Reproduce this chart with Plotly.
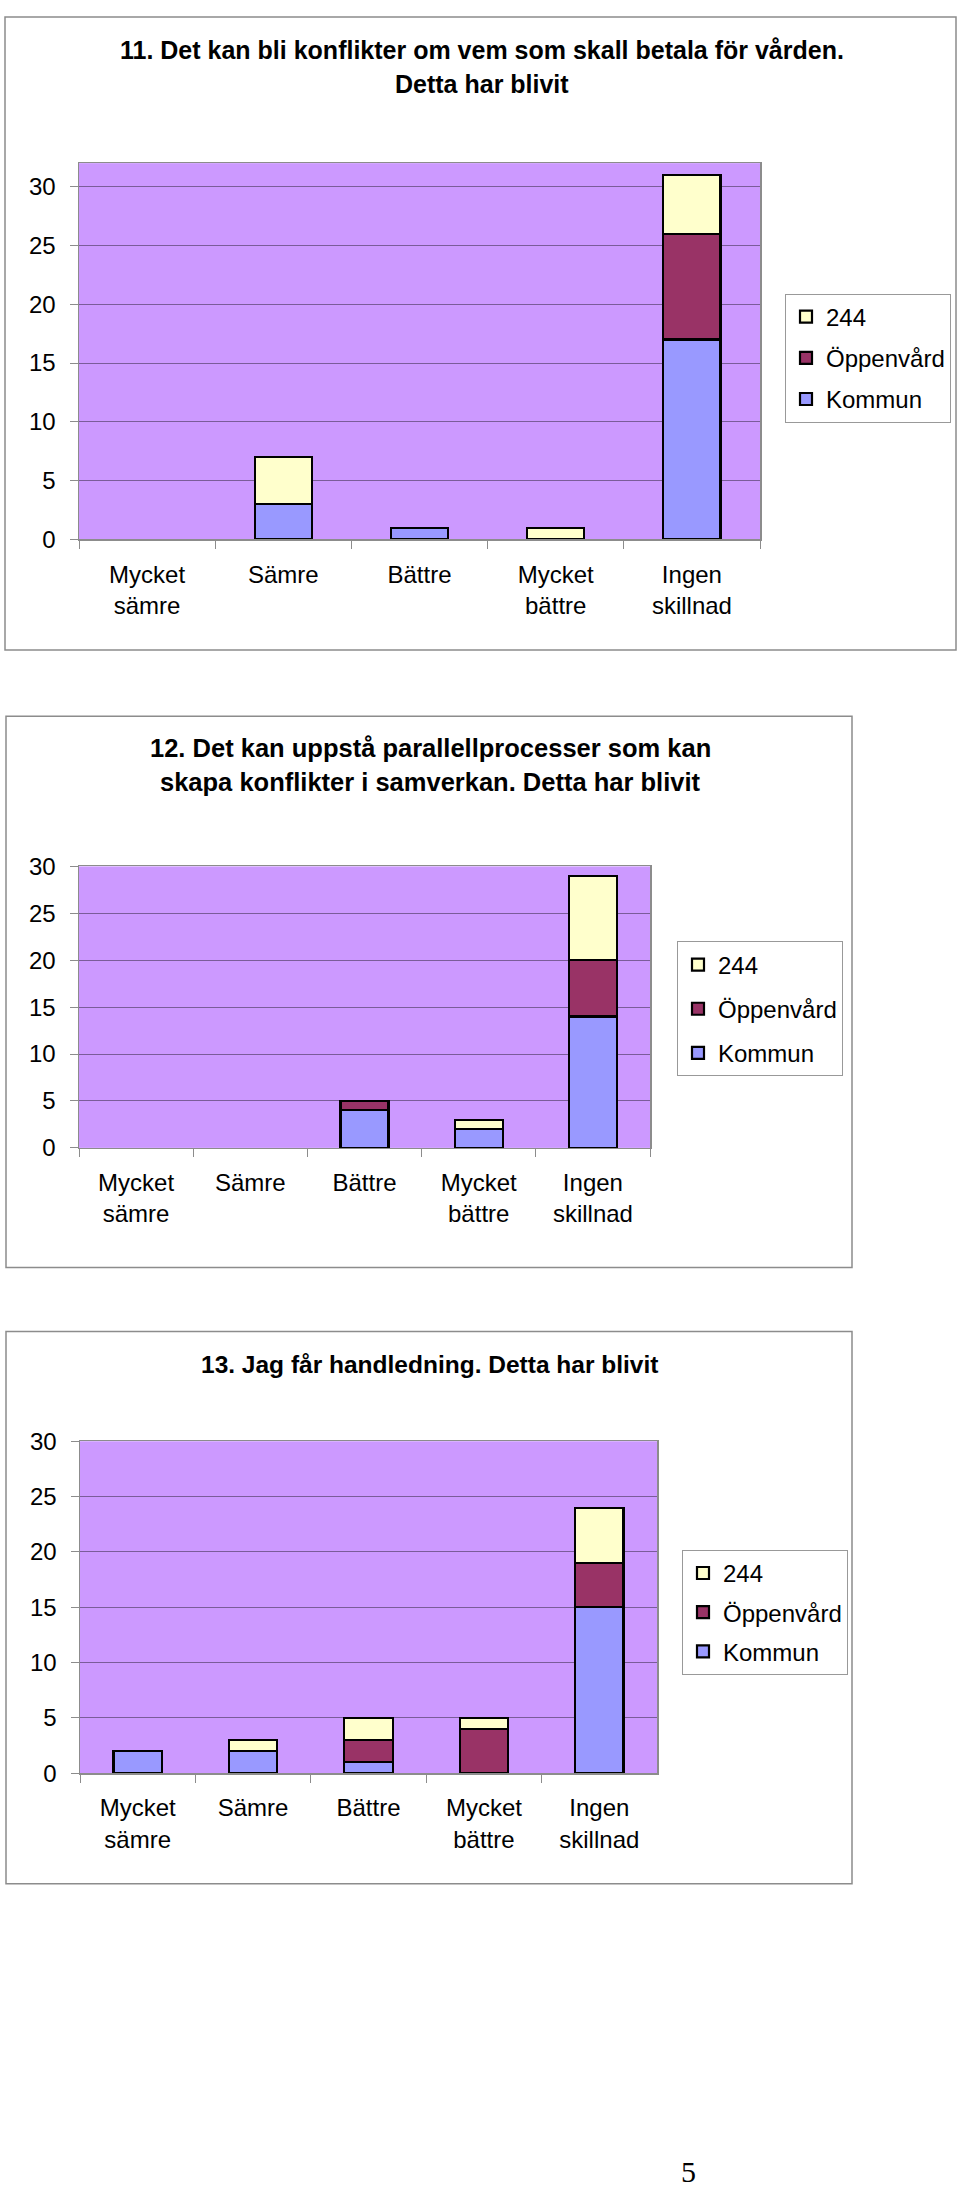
import plotly.graph_objects as go

W, H = 960, 2197

categories = ["Mycket<br>sämre", "Sämre", "Bättre", "Mycket<br>bättre", "Ingen<br>skillnad"]
series_names = ["Kommun", "Öppenvård", "244"]
series_colors = ["#9999FF", "#993366", "#FFFFCC"]
series_rank = [3, 2, 1]

# Chart 11
c11_title = ["11. Det kan bli konflikter om vem som skall betala för vården.", "Detta har blivit"]
c11_kommun = [0, 3, 1, 0, 17]
c11_oppenvard = [0, 0, 0, 0, 9]
c11_244 = [0, 4, 0, 1, 5]

# Chart 12
c12_title = ["12. Det kan uppstå parallellprocesser som kan", "skapa konflikter i samverkan. Detta har blivit"]
c12_kommun = [0, 0, 4, 2, 14]
c12_oppenvard = [0, 0, 1, 0, 6]
c12_244 = [0, 0, 0, 1, 9]

# Chart 13
c13_title = ["13. Jag får handledning. Detta har blivit"]
c13_kommun = [2, 2, 1, 0, 15]
c13_oppenvard = [0, 0, 2, 4, 4]
c13_244 = [0, 1, 2, 1, 5]

y_ticks = [0, 5, 10, 15, 20, 25, 30]
page_number = "5"

FONT = "Liberation Sans, Arial, sans-serif"

def px(x):
    return x / W

def py(y):
    return 1 - y / H

charts = [
    dict(title=c11_title, data=[c11_kommun, c11_oppenvard, c11_244],
         frame=(5, 3, 956, 644), plot=(79, 151, 760, 532), yrange=[0, 32],
         title_y=[36, 71], title_x=482, title_size=25,
         legend=(785, 283), gap=7),
    dict(title=c12_title, data=[c12_kommun, c12_oppenvard, c12_244],
         frame=(6, 711, 852, 1269), plot=(79, 863, 650, 1148), yrange=[0, 30],
         title_y=[743, 778], title_x=430, title_size=25.5,
         legend=(677, 939), gap=10),
    dict(title=c13_title, data=[c13_kommun, c13_oppenvard, c13_244],
         frame=(6, 1334, 852, 1893), plot=(80, 1445, 657, 1781), yrange=[0, 30],
         title_y=[1367], title_x=429, title_size=24.5,
         legend=(682, 1555), gap=5),
]

fig = go.Figure()
shapes = []
annotations = []
layout = {}

for i, ch in enumerate(charts):
    n = i + 1
    xa = "x" if n == 1 else f"x{n}"
    ya = "y" if n == 1 else f"y{n}"
    lg = "legend" if n == 1 else f"legend{n}"
    for name, color, rank, vals in zip(series_names, series_colors, series_rank, ch["data"]):
        fig.add_trace(go.Bar(
            x=categories, y=[v if v else None for v in vals], name=name,
            marker=dict(color=color, line=dict(color="black", width=2.2)),
            xaxis=xa, yaxis=ya, legend=lg, legendgroup=f"{lg}-{name}", legendrank=rank,
            showlegend=True,
        ))
    x0, y0, x1, y1 = ch["plot"]
    xkey = "xaxis" if n == 1 else f"xaxis{n}"
    ykey = "yaxis" if n == 1 else f"yaxis{n}"
    layout[xkey] = dict(
        domain=[px(x0), px(x1)], anchor=ya, type="category",
        showline=True, linecolor="#8c8c8c", linewidth=1.5, mirror=True,
        ticks="outside", tickson="boundaries", ticklen=8, tickcolor="#8c8c8c", tickwidth=1,
        ticklabelstandoff=13,
        tickfont=dict(family=FONT, size=24, color="black"),
        showgrid=False, fixedrange=True,
    )
    layout[ykey] = dict(
        domain=[py(y1), py(y0)], anchor=xa, range=ch["yrange"],
        tickvals=y_ticks, showline=True, linecolor="#8c8c8c", linewidth=1.5, mirror=True,
        ticks="outside", ticklen=8, tickcolor="#8c8c8c", tickwidth=1,
        ticklabelstandoff=9,
        showgrid=True, gridcolor="#7a5c99", gridwidth=1, zeroline=False,
        tickfont=dict(family=FONT, size=24, color="black"),
        fixedrange=True,
    )
    lx, ly = ch["legend"]
    layout[lg] = dict(
        x=px(lx), y=py(ly), xanchor="left", yanchor="top",
        bgcolor="white", bordercolor="#999999", borderwidth=1,
        traceorder="grouped", tracegroupgap=ch["gap"],
        font=dict(family=FONT, size=24, color="black"),
        itemwidth=30,
    )
    fx0, fy0, fx1, fy1 = ch["frame"]
    shapes.append(dict(type="rect", xref="paper", yref="paper",
                       x0=px(fx0), x1=px(fx1), y0=py(fy1), y1=py(fy0),
                       line=dict(color="#8c8c8c", width=1.5), fillcolor="rgba(0,0,0,0)", layer="below"))
    for line, ty in zip(ch["title"], ch["title_y"]):
        annotations.append(dict(text=f"<b>{line}</b>", x=px(ch["title_x"]), y=py(ty),
                                xref="paper", yref="paper", xanchor="center", yanchor="middle",
                                showarrow=False, font=dict(family=FONT, size=ch["title_size"], color="black")))

annotations.append(dict(text=page_number, x=px(688), y=py(2184), xref="paper", yref="paper",
                        xanchor="center", yanchor="middle", showarrow=False,
                        font=dict(family="Liberation Serif, Times New Roman, serif", size=30, color="black")))

fig.update_layout(
    width=W, height=H, margin=dict(l=0, r=0, t=0, b=0),
    paper_bgcolor="white", plot_bgcolor="#CC99FF",
    barmode="stack", bargap=0.58,
    shapes=shapes, annotations=annotations,
    font=dict(family=FONT, color="black"),
    **layout,
)

css = ("html,body{margin:0 !important;padding:0 !important;overflow:hidden !important;"
       "width:960px;height:2197px;} .plotly-graph-div{position:absolute !important;top:0;left:0;}")
post = ("var s=document.createElement('style');s.innerHTML=%r;document.head.appendChild(s);" % css)

fig.write_html("out.html", config={"displayModeBar": False, "staticPlot": True}, post_script=post)
